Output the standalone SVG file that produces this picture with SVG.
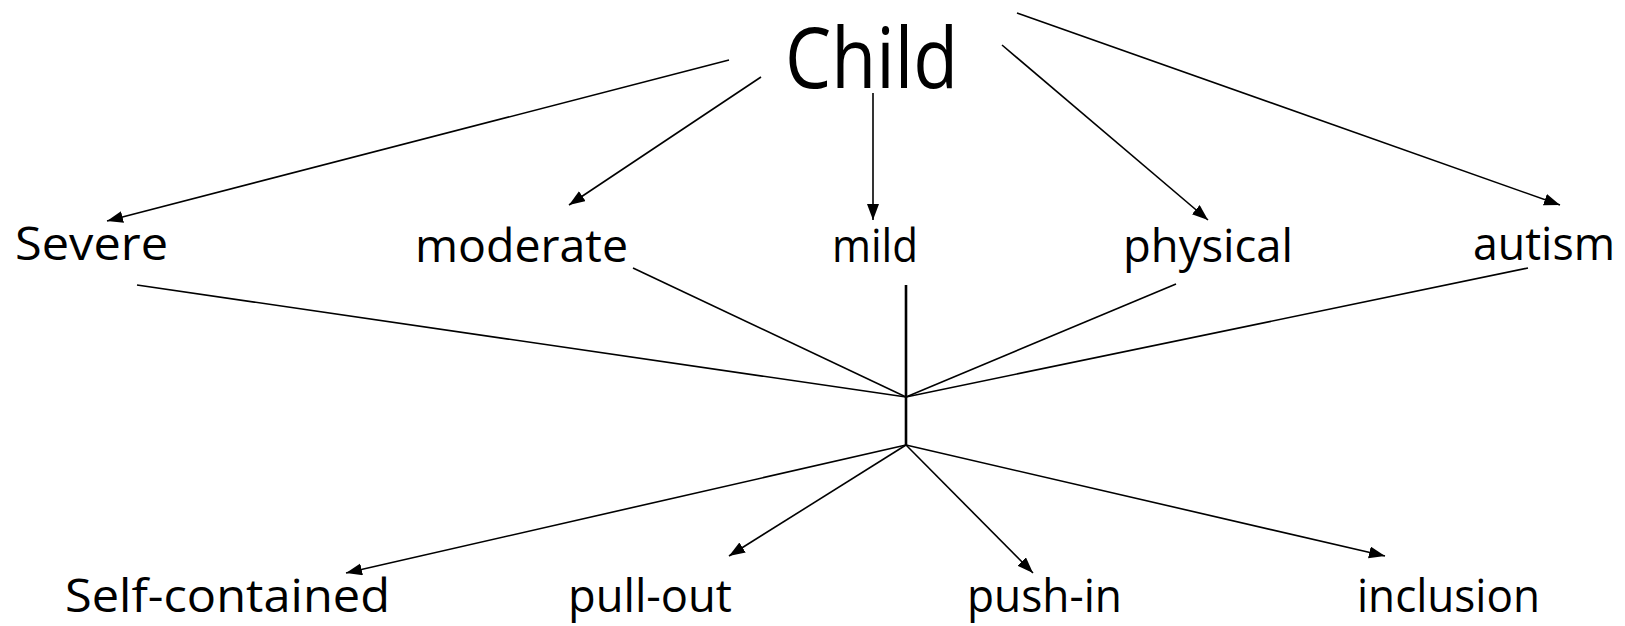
<svg xmlns="http://www.w3.org/2000/svg" width="1625" height="626" viewBox="0 0 1625 626">
<style>
.t{font-family:"Comic Sans MS","Open Sans","Liberation Sans",sans-serif;fill:#000}
.lbl{font-size:46px}
.big{font-size:84px}
.c{stroke:#000;stroke-width:1.6;fill:none}
.a{marker-end:url(#ah)}
.hub{stroke-width:2.6}
</style>
<defs>
<marker id="ah" markerUnits="userSpaceOnUse" markerWidth="18" markerHeight="14" refX="16" refY="6" orient="auto">
<path d="M0,0 L16,6 L0,12 z" fill="#000"/>
</marker>
</defs>
<rect width="1625" height="626" fill="#fff"/>
<g id="connectors">
<line class="c a" x1="729" y1="60" x2="107" y2="221"/>
<line class="c a" x1="761" y1="77" x2="569" y2="205"/>
<line class="c a" x1="873" y1="93" x2="873" y2="220"/>
<line class="c a" x1="1002" y1="45" x2="1208" y2="220"/>
<line class="c a" x1="1017" y1="13" x2="1560" y2="205"/>
<line class="c" x1="137" y1="285" x2="906" y2="397"/>
<line class="c" x1="633" y1="268" x2="906" y2="397"/>
<line class="c hub" x1="906" y1="285" x2="906" y2="445"/>
<line class="c" x1="1176" y1="284" x2="906" y2="397"/>
<line class="c" x1="1528" y1="268" x2="906" y2="397"/>
<line class="c a" x1="906" y1="445" x2="346" y2="573"/>
<line class="c a" x1="906" y1="445" x2="729" y2="556"/>
<line class="c a" x1="906" y1="445" x2="1033" y2="573"/>
<line class="c a" x1="906" y1="445" x2="1385" y2="556"/>
</g>
<g id="child"><text class="t big" x="785" y="88" textLength="173" lengthAdjust="spacingAndGlyphs">Child</text></g>
<g id="severe"><text class="t lbl" x="15" y="260" textLength="153" lengthAdjust="spacingAndGlyphs">Severe</text></g>
<g id="moderate"><text class="t lbl" x="415" y="262" textLength="213" lengthAdjust="spacingAndGlyphs">moderate</text></g>
<g id="mild"><text class="t lbl" x="832" y="262" textLength="86" lengthAdjust="spacingAndGlyphs">mild</text></g>
<g id="physical"><text class="t lbl" x="1123" y="262" textLength="170" lengthAdjust="spacingAndGlyphs">physical</text></g>
<g id="autism"><text class="t lbl" x="1473" y="260" textLength="142" lengthAdjust="spacingAndGlyphs">autism</text></g>
<g id="self-contained"><text class="t lbl" x="65" y="612" textLength="325" lengthAdjust="spacingAndGlyphs">Self-contained</text></g>
<g id="pull-out"><text class="t lbl" x="568" y="612" textLength="164" lengthAdjust="spacingAndGlyphs">pull-out</text></g>
<g id="push-in"><text class="t lbl" x="967" y="612" textLength="155" lengthAdjust="spacingAndGlyphs">push-in</text></g>
<g id="inclusion"><text class="t lbl" x="1357" y="612" textLength="183" lengthAdjust="spacingAndGlyphs">inclusion</text></g>
</svg>
